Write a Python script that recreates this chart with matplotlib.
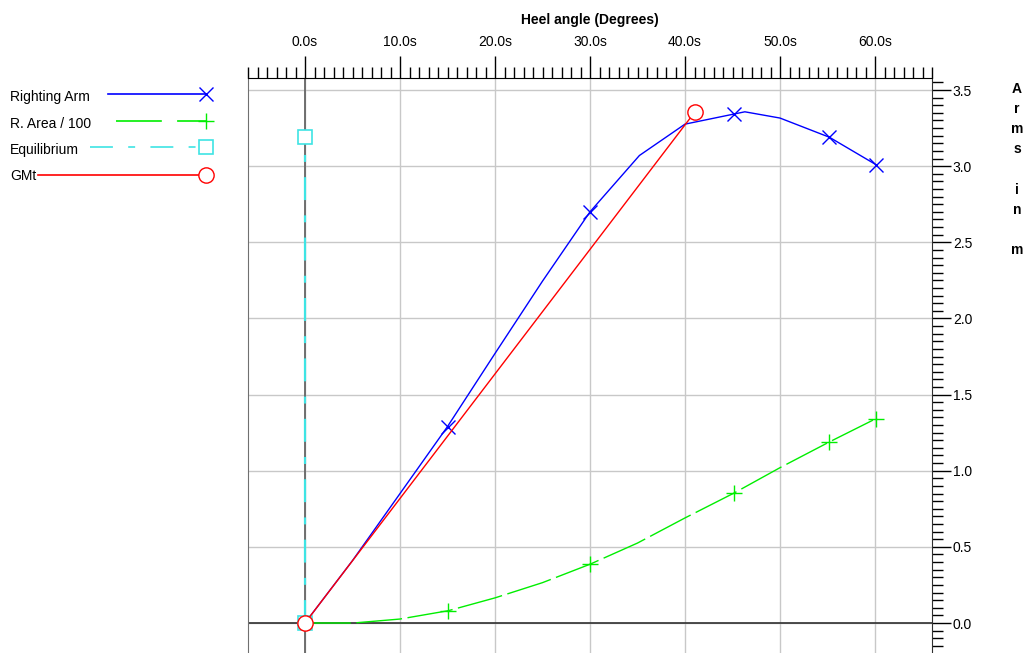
import matplotlib
matplotlib.use('Agg')
import matplotlib.pyplot as plt
from matplotlib.ticker import MultipleLocator, FormatStrFormatter

# Righting arm curve (m) against heel angle (deg)
ra_x = [0, 5, 10, 15, 20, 25, 30, 35.2, 40, 46.3, 50, 55.2, 60.1]
ra_y = [0, 0.41, 0.85, 1.29, 1.77, 2.245, 2.70, 3.07, 3.276, 3.357, 3.316, 3.19, 3.01]

# R. Area / 100
area_x = [0, 5.1, 10, 15.1, 20, 25, 30, 35, 40, 45.15, 50, 55.1, 60.1]
area_y = [0, 0, 0.026, 0.081, 0.165, 0.265, 0.386, 0.525, 0.69, 0.853, 1.02, 1.186, 1.342]

# marker positions along the two curves
mark_x = [15.1, 30, 45.2, 55.2, 60.1]
ra_mark_y = [1.29, 2.70, 3.34, 3.19, 3.01]
area_mark_y = [0.081, 0.386, 0.853, 1.186, 1.342]

# equilibrium and GMt lines
eq_x = [0, 0]
eq_y = [0, 3.19]
gm_x = [0, 41.05]
gm_y = [0, 3.357]

labels = ['Righting Arm', 'R. Area / 100', 'Equilibrium', 'GMt']

BLUE = '#0000ff'
GREEN = '#00ee00'
CYAN = '#3ee4e4'
RED = '#ff0000'

W, H = 1026, 653


def main():
    plt.rcParams['font.family'] = ['Liberation Sans', 'DejaVu Sans']
    plt.rcParams['font.size'] = 10
    plt.rcParams['lines.scale_dashes'] = False

    fig = plt.figure(figsize=(W / 100., H / 100.), dpi=100)

    # legend drawn by hand in figure pixels (text left, sample on the right)
    lax = fig.add_axes([0, 0, 1, 1])
    lax.set_xlim(0, W)
    lax.set_ylim(H, 0)
    lax.axis('off')
    rows = [97, 124, 150, 176]
    starts = [108, 116, 90, 38]
    styles = [dict(color=BLUE, marker='x', ms=10, mew=1),
              dict(color=GREEN, marker='+', ms=11, mew=1, dashes=(33, 11)),
              dict(color=CYAN, marker='s', ms=10, mew=1.2, mfc='white',
                   dashes=(16.5, 11, 5, 11)),
              dict(color=RED, marker='o', ms=11, mew=1, mfc='white')]
    for lab, yy, x0, st in zip(labels, rows, starts, styles):
        lax.text(10, yy, lab, va='center', ha='left', fontsize=10)
        line_y = yy - 3 if lab != 'GMt' else yy - 1
        lax.plot([x0, 206], [line_y, line_y], lw=1.2, markevery=[1], **st)

    ax = fig.add_axes([248. / W, 0, 684. / W, 575. / H])
    ax.set_xlim(-6, 66)
    ax.set_ylim(-0.197, 3.579)
    ax.set_facecolor('none')

    ax.xaxis.tick_top()
    ax.xaxis.set_label_position('top')
    ax.yaxis.tick_right()
    ax.xaxis.set_major_locator(MultipleLocator(10))
    ax.xaxis.set_minor_locator(MultipleLocator(1))
    ax.yaxis.set_major_locator(MultipleLocator(0.5))
    ax.yaxis.set_minor_locator(MultipleLocator(0.05))
    ax.xaxis.set_major_formatter(FormatStrFormatter('%.1fs'))
    ax.yaxis.set_major_formatter(FormatStrFormatter('%.1f'))
    ax.tick_params(axis='x', which='major', direction='out', length=16,
                   width=1, pad=5, labelsize=10)
    ax.tick_params(axis='x', which='minor', direction='out', length=8, width=1)
    ax.tick_params(axis='y', which='major', direction='out', length=14,
                   width=1, pad=1, labelsize=10)
    ax.tick_params(axis='y', which='minor', direction='out', length=8, width=1)
    ax.set_xlabel('Heel angle (Degrees)', fontweight='bold', labelpad=8)

    ax.spines['bottom'].set_visible(False)
    ax.spines['left'].set_color('#707070')
    ax.spines['top'].set_color('black')
    ax.spines['right'].set_color('#303030')

    ax.set_axisbelow(True)
    ax.grid(True, which='major', color='#c8c8c8', lw=1)
    ax.axvline(0, color='#666666', lw=1.3, zorder=1.5)
    ax.axhline(0, color='#303030', lw=1.2, zorder=1.5)

    ax.plot(ra_x, ra_y, color=BLUE, lw=1)
    ax.plot(mark_x, ra_mark_y, 'x', color=BLUE, ms=10, mew=1)
    ax.plot(area_x, area_y, color=GREEN, lw=1, dashes=(33, 4))
    ax.plot(mark_x, area_mark_y, '+', color=GREEN, ms=11, mew=1)
    ax.plot(eq_x, eq_y, color=CYAN, lw=1.6, dashes=(16.5, 11, 5, 11),
            marker='s', ms=10, mew=1.2, mfc='white', clip_on=False)
    ax.plot(gm_x, gm_y, color=RED, lw=1, marker='o', ms=11, mew=1,
            mfc='white', clip_on=False)

    fig.text(1017. / W, 1 - 82. / H, 'A\nr\nm\ns\n\ni\nn\n\nm',
             ha='center', va='top', fontweight='bold', fontsize=10,
             linespacing=1.56)

    fig.savefig('out.png', dpi=100)


if __name__ == '__main__':
    main()
